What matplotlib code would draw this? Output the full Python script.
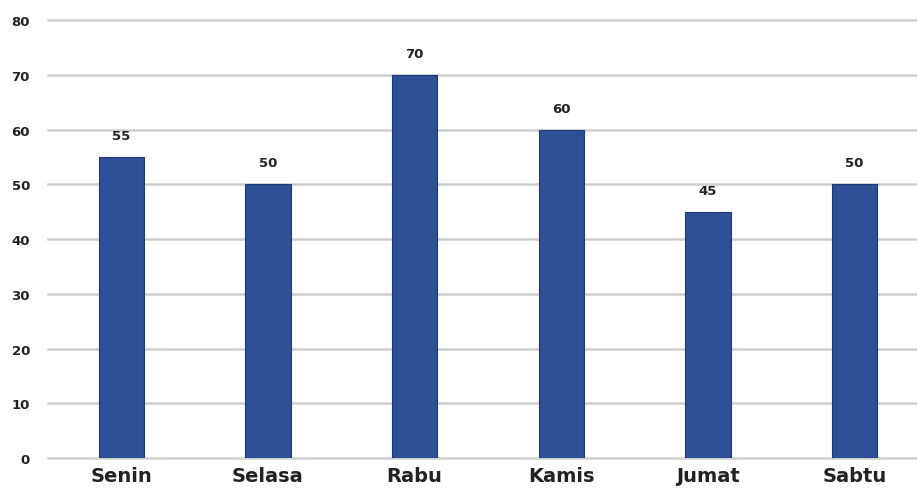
import matplotlib.pyplot as plt

days = ["Senin", "Selasa", "Rabu", "Kamis", "Jumat", "Sabtu"]
values = [55, 50, 70, 60, 45, 50]
yticks = [0, 10, 20, 30, 40, 50, 60, 70, 80]

fig = plt.figure(figsize=(9.17, 4.89), dpi=100)
ax = fig.add_axes([0.0523, 0.0613, 0.9477, 0.8957])

x = range(len(days))
bars = ax.bar(x, values, width=0.31, color="#2D5096", edgecolor="#1F3A73", linewidth=0.8, zorder=3)

# value labels above bars
for xi, v in zip(x, values):
    ax.text(xi, v + 3.9, str(v), ha="center", va="center", fontsize=9.5, fontweight="bold", color="#222222")

ax.set_xlim(-0.5, 5.425)
ax.set_ylim(0, 80)
ax.set_yticks(yticks)
ax.set_xticks(list(x))
ax.set_xticklabels(days, fontsize=14, fontweight="bold", color="#222222")
ax.tick_params(axis="y", length=0, pad=13, labelsize=9.5, labelcolor="#222222")
ax.tick_params(axis="x", length=0, pad=6)
for lbl in ax.get_yticklabels():
    lbl.set_fontweight("bold")

ax.grid(axis="y", color="#CFCFCF", linewidth=1.8, zorder=0)
for gl in ax.get_ygridlines():
    gl.set_clip_on(False)
for s in ax.spines.values():
    s.set_visible(False)

fig.savefig("out.png", dpi=100)
